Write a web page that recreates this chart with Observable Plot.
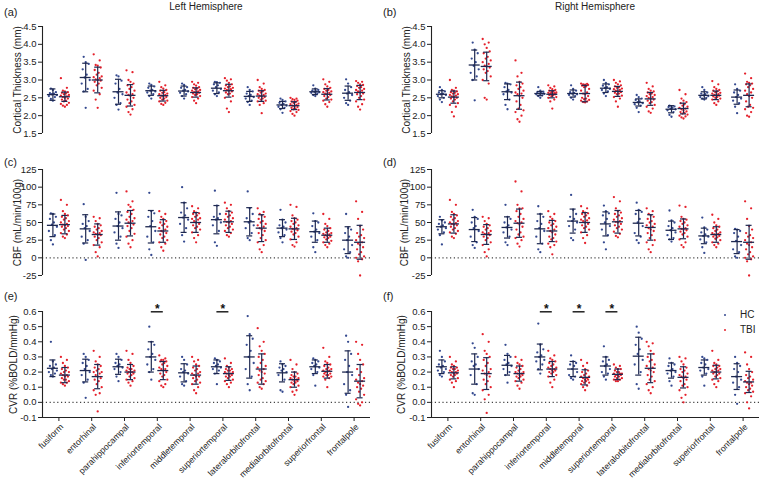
<!DOCTYPE html>
<html><head><meta charset="utf-8">
<script src="https://cdn.jsdelivr.net/npm/d3@7"></script>
<script src="https://cdn.jsdelivr.net/npm/@observablehq/plot@0.6"></script>
<style>
body{margin:0;background:#fff;font-family:"Liberation Sans",Arial,sans-serif;}
#root{position:relative;width:760px;height:478px;overflow:hidden;background:#fff;}
.p{position:absolute;}
.lab{position:absolute;font-size:11px;line-height:13px;color:#222;}
.ttl{position:absolute;font-size:10px;line-height:12px;color:#222;transform:translateX(-50%);white-space:nowrap;}
.leg{position:absolute;font-size:10px;line-height:12px;color:#222;}
.leg i{position:absolute;width:2px;height:2px;border-radius:1px;}
</style></head><body><div id="root"></div>
<script>
const regions = ["fusiform","entorhinal","parahippocampal","inferiortemporal","middletemporal","superiortemporal","lateralorbitofrontal","medialorbitofrontal","superiorfrontal","frontalpole"];
const groups = ["HC","TBI"];
const ctTicks = [1.5,2.0,2.5,3.0,3.5,4.0,4.5];
const cbfTicks = [-25,0,25,50,75,100,125];
const cvrTicks = [-0.1,0.0,0.1,0.2,0.3,0.4,0.5,0.6];

// ---- (a) cortical thickness, left ----
const ctL_HC = [
 [2.42,2.47,2.52,2.55,2.58,2.6,2.62,2.63,2.66,2.72,2.76],
 [2.22,2.68,2.75,2.9,3.0,3.07,3.15,3.3,3.45,3.5,3.65],
 [2.17,2.3,2.35,2.5,2.6,2.65,2.75,2.9,2.98,3.1,3.13],
 [2.48,2.55,2.6,2.65,2.68,2.7,2.72,2.78,2.82,2.86,2.9],
 [2.48,2.55,2.6,2.64,2.68,2.7,2.72,2.78,2.8,2.86,2.9],
 [2.55,2.6,2.65,2.7,2.75,2.8,2.85,2.88,2.92,2.94,2.95],
 [2.3,2.38,2.42,2.48,2.52,2.55,2.58,2.62,2.68,2.72,2.8],
 [2.08,2.18,2.22,2.25,2.28,2.3,2.33,2.36,2.4,2.44,2.48],
 [2.55,2.58,2.62,2.64,2.66,2.67,2.68,2.7,2.72,2.76,2.85],
 [2.3,2.35,2.42,2.5,2.58,2.62,2.66,2.72,2.8,2.9,3.02]];
const ctL_TBI = [
 [2.25,2.28,2.3,2.33,2.36,2.4,2.42,2.45,2.48,2.5,2.52,2.54,2.56,2.58,2.6,2.62,2.64,2.66,2.68,2.7,2.78,3.05],
 [2.22,2.45,2.6,2.7,2.78,2.85,2.9,2.95,2.98,3.0,3.02,3.05,3.08,3.1,3.15,3.2,3.28,3.35,3.4,3.42,3.55,3.72],
 [2.03,2.1,2.18,2.25,2.3,2.35,2.4,2.45,2.5,2.55,2.58,2.6,2.65,2.7,2.75,2.8,2.85,2.9,2.95,3.0,3.22,3.27],
 [2.3,2.33,2.36,2.4,2.42,2.45,2.48,2.5,2.52,2.54,2.56,2.58,2.6,2.62,2.64,2.66,2.7,2.72,2.76,2.8,2.85,2.95],
 [2.35,2.42,2.48,2.52,2.55,2.58,2.6,2.62,2.64,2.65,2.66,2.68,2.7,2.72,2.74,2.76,2.78,2.8,2.84,2.88,2.92,2.95],
 [2.1,2.2,2.4,2.5,2.55,2.6,2.62,2.65,2.68,2.7,2.72,2.74,2.76,2.78,2.8,2.82,2.85,2.88,2.92,2.98,3.02,3.05],
 [2.07,2.3,2.35,2.4,2.42,2.45,2.48,2.5,2.52,2.54,2.56,2.58,2.6,2.62,2.65,2.68,2.7,2.72,2.75,2.8,2.9,3.0],
 [2.0,2.05,2.1,2.13,2.16,2.18,2.2,2.22,2.24,2.26,2.28,2.3,2.32,2.34,2.36,2.38,2.4,2.42,2.44,2.46,2.48,2.5],
 [2.25,2.32,2.38,2.42,2.45,2.48,2.52,2.55,2.58,2.6,2.62,2.64,2.66,2.68,2.7,2.72,2.75,2.78,2.82,2.88,2.95,3.02],
 [2.17,2.25,2.32,2.4,2.45,2.5,2.55,2.6,2.62,2.65,2.68,2.7,2.72,2.75,2.78,2.8,2.83,2.86,2.88,2.92,2.95,2.97]];
const ctL_HC_mean = [2.59,3.07,2.67,2.70,2.69,2.77,2.54,2.30,2.67,2.63];
const ctL_HC_sd = [0.16,0.40,0.35,0.13,0.14,0.15,0.14,0.10,0.08,0.20];
const ctL_TBI_mean = [2.53,3.00,2.57,2.56,2.65,2.70,2.55,2.28,2.60,2.65];
const ctL_TBI_sd = [0.13,0.36,0.30,0.15,0.13,0.18,0.15,0.11,0.16,0.20];

// ---- (b) cortical thickness, right ----
const ctR_HC = [
 [2.38,2.45,2.5,2.55,2.58,2.6,2.62,2.65,2.68,2.72,2.8],
 [2.43,3.0,3.1,3.2,3.3,3.4,3.5,3.6,3.75,3.85,4.05],
 [2.18,2.3,2.45,2.6,2.65,2.68,2.72,2.8,2.88,2.9,2.92],
 [2.5,2.55,2.57,2.6,2.61,2.62,2.63,2.65,2.67,2.7,2.8],
 [2.45,2.5,2.55,2.58,2.6,2.62,2.64,2.66,2.7,2.75,2.85],
 [2.55,2.62,2.68,2.72,2.75,2.78,2.8,2.84,2.88,2.92,3.0],
 [2.1,2.22,2.28,2.32,2.35,2.38,2.4,2.44,2.48,2.52,2.58],
 [1.97,2.02,2.1,2.15,2.18,2.2,2.22,2.24,2.26,2.27,2.28],
 [2.45,2.48,2.5,2.52,2.55,2.57,2.6,2.62,2.65,2.72,2.8],
 [2.07,2.25,2.35,2.42,2.48,2.52,2.58,2.65,2.7,2.75,2.88]];
const ctR_TBI = [
 [1.98,2.1,2.25,2.3,2.35,2.4,2.45,2.48,2.5,2.52,2.54,2.56,2.58,2.6,2.62,2.64,2.66,2.68,2.7,2.72,2.78,3.0],
 [2.45,2.5,2.9,3.0,3.1,3.2,3.25,3.3,3.35,3.38,3.4,3.45,3.5,3.55,3.6,3.65,3.75,3.8,3.9,4.0,4.05,4.15],
 [1.83,1.9,2.0,2.1,2.15,2.2,2.3,2.4,2.5,2.55,2.6,2.62,2.65,2.7,2.75,2.8,2.85,2.9,2.95,3.1,3.2,3.55],
 [2.2,2.4,2.45,2.5,2.52,2.55,2.57,2.58,2.6,2.61,2.62,2.63,2.64,2.65,2.66,2.68,2.7,2.72,2.74,2.78,2.82,2.85],
 [2.37,2.38,2.4,2.42,2.44,2.46,2.48,2.5,2.55,2.6,2.62,2.65,2.7,2.75,2.8,2.82,2.84,2.86,2.87,2.88,2.89,2.9],
 [2.25,2.4,2.48,2.52,2.56,2.6,2.62,2.64,2.66,2.68,2.7,2.72,2.74,2.76,2.78,2.8,2.82,2.85,2.88,2.92,2.96,3.0],
 [2.08,2.12,2.2,2.25,2.3,2.35,2.38,2.42,2.45,2.48,2.5,2.52,2.55,2.58,2.6,2.62,2.65,2.68,2.7,2.75,2.82,2.92],
 [1.92,1.95,1.98,2.0,2.03,2.06,2.08,2.1,2.12,2.15,2.18,2.2,2.22,2.25,2.28,2.32,2.35,2.38,2.42,2.48,2.6,2.72],
 [2.3,2.35,2.4,2.45,2.48,2.5,2.52,2.54,2.56,2.57,2.58,2.6,2.62,2.64,2.66,2.68,2.7,2.72,2.75,2.8,2.88,2.97],
 [1.97,2.0,2.1,2.18,2.22,2.25,2.3,2.4,2.5,2.55,2.6,2.65,2.7,2.75,2.8,2.85,2.88,2.9,2.92,2.95,3.05,3.18]];
const ctR_HC_mean = [2.60,3.42,2.67,2.62,2.62,2.77,2.37,2.18,2.57,2.52];
const ctR_HC_sd = [0.10,0.42,0.22,0.06,0.10,0.12,0.10,0.10,0.10,0.20];
const ctR_TBI_mean = [2.52,3.38,2.56,2.60,2.62,2.68,2.47,2.20,2.57,2.57];
const ctR_TBI_sd = [0.17,0.40,0.38,0.10,0.23,0.14,0.18,0.15,0.12,0.32];

// ---- (c) CBF, left ----
const cbfL_HC = [
 [19,25,32,38,44,47,50,55,58,62,63],
 [-3,20,25,30,38,42,45,48,52,58,76],
 [14,20,30,36,42,45,50,55,60,62,92],
 [4,12,22,30,38,45,52,58,63,66,92],
 [23,32,42,48,54,57,60,64,70,78,100],
 [17,22,38,46,50,54,56,58,62,74,95],
 [25,28,35,42,46,50,52,56,62,70,94],
 [22,28,32,36,40,42,44,46,50,54,68],
 [8,15,25,30,35,37,40,45,50,52,63],
 [0,2,8,12,18,25,30,35,40,42,62]];
const cbfL_TBI = [
 [28,30,33,35,38,40,42,44,45,46,47,48,50,52,54,56,58,60,62,66,75,82],
 [2,8,15,18,22,25,28,30,32,33,34,35,36,38,40,42,44,46,48,52,56,58],
 [15,20,25,30,34,38,42,45,47,49,50,52,54,56,58,62,65,68,72,75,80,94],
 [10,15,20,22,25,28,30,33,35,37,38,40,42,44,46,48,50,52,55,58,62,66],
 [22,28,32,36,40,42,44,46,48,50,52,54,55,56,58,60,62,63,64,66,70,73],
 [30,32,35,38,40,42,44,46,48,50,51,52,54,56,58,60,62,64,66,70,75,78],
 [8,12,18,22,25,28,32,35,38,40,42,44,46,48,50,52,55,58,60,62,65,70],
 [16,18,22,26,30,33,35,37,39,40,41,42,44,46,48,50,52,54,56,60,72,75],
 [15,18,20,22,24,26,28,29,30,31,32,33,34,35,36,38,40,42,45,48,55,62],
 [-25,-5,-2,0,2,5,8,12,15,18,20,22,25,28,30,32,35,40,45,55,65,80]];
const cbfL_HC_mean = [46,41,45,44,57,54,51,42,37,25];
const cbfL_HC_sd = [16,20,20,23,21,20,20,12,15,19];
const cbfL_TBI_mean = [47,33,49,38,50,51,42,41,32,22];
const cbfL_TBI_sd = [13,15,18,16,14,15,19,15,10,24];

// ---- (d) CBF, right ----
const cbfR_HC = [
 [19,32,36,40,42,44,46,48,50,53,58],
 [14,18,22,30,38,42,45,50,55,58,68],
 [18,22,30,36,40,43,46,50,55,58,75],
 [8,12,20,30,38,42,48,52,58,62,73],
 [25,28,40,45,50,52,55,58,62,68,89],
 [12,22,32,40,45,50,55,60,63,66,74],
 [21,25,30,35,45,50,55,62,65,68,78],
 [23,26,28,32,36,39,42,45,50,53,67],
 [7,15,22,26,30,31,33,36,40,43,57],
 [0,2,8,12,18,24,30,35,38,40,41]];
const cbfR_TBI = [
 [28,30,34,36,38,40,42,44,46,47,48,49,50,52,54,56,58,60,62,65,75,82],
 [2,8,12,18,22,25,28,30,32,33,34,35,36,38,40,42,44,46,48,52,56,58],
 [16,20,25,28,30,33,36,40,44,47,49,50,52,55,58,62,66,70,70,75,94,108],
 [5,15,18,20,23,26,28,30,33,36,38,40,42,44,46,48,50,52,55,58,62,66],
 [21,28,32,36,40,42,44,46,48,50,52,53,54,56,58,60,62,63,64,66,70,73],
 [29,31,34,37,40,42,44,46,48,50,51,52,54,56,58,60,62,64,66,70,80,86],
 [8,12,18,22,25,28,32,35,38,40,42,44,46,48,50,52,55,58,60,62,66,70],
 [15,18,22,26,30,33,35,37,39,40,41,42,44,46,48,50,52,54,55,58,72,74],
 [15,18,20,22,25,27,29,30,31,32,33,34,35,36,38,40,42,44,46,50,55,61],
 [-25,-5,-2,0,2,5,8,12,15,18,20,22,25,28,30,32,35,40,45,55,70,80]];
const cbfR_HC_mean = [44,40,43,41,52,48,49,39,31,23];
const cbfR_HC_sd = [10,17,15,21,17,17,18,13,11,17];
const cbfR_TBI_mean = [48,33,49,38,50,51,43,41,33,22];
const cbfR_TBI_sd = [13,14,20,15,14,16,18,14,11,24];

// ---- (e) CVR, left ----
const cvrL_HC = [
 [0.17,0.18,0.19,0.2,0.21,0.22,0.23,0.24,0.25,0.27,0.40],
 [0.03,0.13,0.15,0.18,0.2,0.22,0.24,0.26,0.28,0.3,0.32],
 [0.14,0.17,0.2,0.22,0.23,0.24,0.25,0.26,0.28,0.3,0.32],
 [0.15,0.2,0.22,0.25,0.28,0.3,0.32,0.35,0.38,0.4,0.5],
 [0.11,0.12,0.14,0.17,0.19,0.2,0.21,0.22,0.25,0.28,0.3],
 [0.12,0.19,0.21,0.22,0.23,0.24,0.25,0.26,0.27,0.28,0.29],
 [0.08,0.12,0.17,0.22,0.26,0.3,0.34,0.38,0.42,0.45,0.57],
 [0.07,0.08,0.15,0.18,0.2,0.21,0.22,0.23,0.24,0.25,0.27],
 [0.11,0.18,0.2,0.22,0.23,0.24,0.25,0.26,0.27,0.28,0.29],
 [-0.03,0.05,0.08,0.12,0.18,0.2,0.24,0.28,0.32,0.4,0.44]];
const cvrL_TBI = [
 [0.11,0.12,0.13,0.13,0.14,0.15,0.15,0.16,0.17,0.17,0.18,0.18,0.19,0.2,0.2,0.21,0.22,0.23,0.24,0.26,0.28,0.3],
 [-0.06,0.05,0.06,0.08,0.1,0.12,0.14,0.15,0.16,0.17,0.18,0.19,0.2,0.2,0.21,0.22,0.23,0.24,0.25,0.27,0.3,0.34],
 [0.11,0.13,0.14,0.15,0.16,0.17,0.18,0.19,0.19,0.2,0.2,0.2,0.21,0.21,0.22,0.22,0.23,0.24,0.26,0.28,0.32,0.34],
 [0.1,0.11,0.12,0.14,0.15,0.17,0.18,0.19,0.2,0.21,0.22,0.22,0.23,0.24,0.25,0.26,0.27,0.27,0.28,0.28,0.29,0.31],
 [0.06,0.08,0.1,0.12,0.13,0.14,0.15,0.16,0.17,0.17,0.18,0.19,0.19,0.2,0.21,0.22,0.23,0.24,0.25,0.27,0.28,0.3],
 [0.1,0.12,0.13,0.14,0.15,0.16,0.17,0.17,0.18,0.18,0.19,0.19,0.2,0.2,0.21,0.21,0.22,0.22,0.23,0.24,0.26,0.29],
 [0.09,0.1,0.12,0.13,0.14,0.15,0.16,0.18,0.19,0.2,0.21,0.22,0.23,0.24,0.26,0.28,0.3,0.32,0.34,0.37,0.4,0.49],
 [0.05,0.07,0.08,0.1,0.11,0.12,0.13,0.13,0.14,0.14,0.15,0.15,0.16,0.16,0.17,0.17,0.18,0.19,0.2,0.22,0.25,0.28],
 [0.1,0.15,0.16,0.17,0.17,0.18,0.18,0.19,0.19,0.2,0.2,0.21,0.21,0.22,0.22,0.23,0.24,0.25,0.26,0.27,0.3,0.36],
 [-0.02,-0.01,0.0,0.02,0.05,0.07,0.09,0.1,0.11,0.12,0.13,0.14,0.15,0.16,0.18,0.2,0.22,0.25,0.28,0.32,0.38,0.4]];
const cvrL_HC_mean = [0.225,0.21,0.235,0.30,0.195,0.235,0.30,0.195,0.235,0.20];
const cvrL_HC_sd = [0.055,0.075,0.05,0.10,0.06,0.045,0.14,0.06,0.045,0.14];
const cvrL_TBI_mean = [0.18,0.17,0.20,0.21,0.18,0.19,0.22,0.15,0.205,0.14];
const cvrL_TBI_sd = [0.05,0.08,0.05,0.06,0.06,0.045,0.10,0.05,0.045,0.11];
const cvrL_sig = [3,5];

// ---- (f) CVR, right ----
const cvrR_HC = [
 [0.17,0.18,0.2,0.21,0.22,0.23,0.24,0.25,0.27,0.3,0.34],
 [0.05,0.06,0.12,0.18,0.22,0.24,0.25,0.27,0.3,0.36,0.39],
 [0.13,0.18,0.2,0.22,0.24,0.25,0.26,0.28,0.3,0.32,0.38],
 [0.19,0.22,0.25,0.27,0.28,0.3,0.31,0.33,0.35,0.38,0.52],
 [0.15,0.16,0.17,0.18,0.2,0.22,0.24,0.25,0.26,0.27,0.31],
 [0.15,0.17,0.19,0.2,0.22,0.24,0.25,0.27,0.28,0.3,0.37],
 [0.09,0.12,0.2,0.25,0.28,0.32,0.35,0.38,0.42,0.46,0.5],
 [0.11,0.14,0.17,0.19,0.2,0.21,0.22,0.24,0.25,0.26,0.29],
 [0.11,0.17,0.19,0.21,0.22,0.23,0.25,0.26,0.28,0.29,0.3],
 [-0.01,0.05,0.1,0.13,0.15,0.17,0.2,0.22,0.24,0.26,0.3]];
const cvrR_TBI = [
 [0.1,0.13,0.14,0.15,0.16,0.17,0.18,0.18,0.19,0.19,0.2,0.2,0.21,0.21,0.22,0.22,0.23,0.23,0.24,0.25,0.27,0.3],
 [-0.07,0.02,0.05,0.08,0.1,0.12,0.14,0.15,0.17,0.18,0.19,0.2,0.21,0.22,0.24,0.26,0.28,0.3,0.32,0.34,0.4,0.45],
 [0.09,0.11,0.13,0.14,0.15,0.16,0.17,0.17,0.18,0.18,0.19,0.19,0.2,0.2,0.21,0.22,0.23,0.24,0.25,0.26,0.28,0.3],
 [0.1,0.13,0.15,0.17,0.18,0.19,0.2,0.2,0.21,0.21,0.22,0.22,0.23,0.23,0.24,0.25,0.26,0.27,0.28,0.29,0.31,0.34],
 [0.08,0.1,0.11,0.12,0.13,0.13,0.14,0.14,0.15,0.15,0.16,0.16,0.17,0.17,0.18,0.19,0.2,0.21,0.22,0.24,0.26,0.28],
 [0.14,0.14,0.15,0.15,0.16,0.16,0.17,0.17,0.18,0.18,0.18,0.19,0.19,0.19,0.2,0.2,0.21,0.22,0.22,0.23,0.24,0.25],
 [0.06,0.08,0.1,0.12,0.14,0.15,0.17,0.18,0.2,0.21,0.22,0.23,0.24,0.25,0.27,0.28,0.3,0.32,0.34,0.37,0.39,0.4],
 [0.0,0.03,0.05,0.08,0.1,0.11,0.12,0.14,0.15,0.16,0.17,0.17,0.18,0.19,0.2,0.21,0.22,0.23,0.25,0.27,0.29,0.3],
 [0.1,0.12,0.14,0.15,0.16,0.17,0.18,0.19,0.19,0.2,0.2,0.21,0.21,0.22,0.22,0.23,0.24,0.24,0.25,0.26,0.28,0.34],
 [-0.04,0.0,0.04,0.06,0.07,0.08,0.09,0.1,0.11,0.12,0.13,0.13,0.14,0.15,0.16,0.17,0.18,0.2,0.22,0.25,0.3,0.33]];
const cvrR_HC_mean = [0.235,0.22,0.245,0.30,0.22,0.24,0.305,0.21,0.23,0.17];
const cvrR_HC_sd = [0.045,0.10,0.065,0.085,0.05,0.06,0.125,0.05,0.05,0.085];
const cvrR_TBI_mean = [0.195,0.19,0.19,0.22,0.165,0.185,0.225,0.165,0.2,0.135];
const cvrR_TBI_sd = [0.04,0.105,0.05,0.05,0.05,0.035,0.095,0.07,0.045,0.07];
const cvrR_sig = [3,4,5];

// ---------- layout / style ----------
const HC_COLOR = "#34498f", TBI_COLOR = "#e5202b", BAR_COLOR = "#1e2850", AXIS = "#222";
const PXU = 32.8;            // px per x unit
const OFF = 6 / PXU;         // group offset from region centre
const JIT = [0,-2,2,-4,4,-1,1,-3,3]; // px, horizontal scatter pattern
const ROWS = [
  {top:0, height:150, mt:26, mb:17},
  {top:150, height:130, mt:19, mb:5},
  {top:280, height:198, mt:31, mb:61}];
const SIDES = [{left:0, ml:42, mr:10}, {left:380, ml:51, mr:1}];
const root = document.getElementById("root");

function panel(o){
  const row = ROWS[o.row], side = SIDES[o.side];
  const dots = [];
  [[o.hc,-1,"HC"],[o.tbi,1,"TBI"]].forEach(([arr,s,g]) => arr.forEach((vals,i) =>
    vals.forEach((v,k) => dots.push({x: i + 0.5 + s*OFF + JIT[k % JIT.length]/PXU, y: v, g}))));
  const bars = [];
  [[o.hcM,o.hcS,-1],[o.tbiM,o.tbiS,1]].forEach(([M,S,s]) => M.forEach((m,i) =>
    bars.push({x: i + 0.5 + s*OFF, m, lo: m - S[i], hi: m + S[i]})));
  const marks = [];
  if (o.zero) marks.push(Plot.ruleY([0], {stroke: "#444", strokeWidth: 1.1, strokeDasharray: "1.2,2.6"}));
  marks.push(
    Plot.dot(dots, {x:"x", y:"y", r:1.15, fill: d => d.g === "HC" ? HC_COLOR : TBI_COLOR, stroke: "none"}),
    Plot.ruleX(bars, {x:"x", y1:"lo", y2:"hi", stroke: BAR_COLOR, strokeWidth: 1.2}),
    Plot.ruleY(bars, {y:"m", x1: d => d.x - 5.5/PXU, x2: d => d.x + 5.5/PXU, stroke: BAR_COLOR, strokeWidth: 1.3}),
    Plot.ruleY(bars, {y:"lo", x1: d => d.x - 3/PXU, x2: d => d.x + 3/PXU, stroke: BAR_COLOR, strokeWidth: 1.2}),
    Plot.ruleY(bars, {y:"hi", x1: d => d.x - 3/PXU, x2: d => d.x + 3/PXU, stroke: BAR_COLOR, strokeWidth: 1.2}),
    Plot.ruleX([0], {stroke: AXIS, strokeWidth: 1.1}),
    Plot.axisY({ticks: o.ticks, tickFormat: o.fmt, tickSize: 4, tickPadding: 2, label: null, fontSize: 9.5}),
    Plot.text([o.label], {frameAnchor: "left", textAnchor: "middle", lineAnchor: "middle", rotate: -90, dx: -(side.ml - o.labelX), fontSize: 10, fill: AXIS})
  );
  if (o.sig) {
    marks.push(
      Plot.ruleY(o.sig, {y: () => 0.598, x1: i => i + 0.5 - OFF, x2: i => i + 0.5 + OFF, stroke: "#111", strokeWidth: 1.4}),
      Plot.text(o.sig, {x: i => i + 0.5, y: () => 0.598, text: () => "*", dy: -2.5, fontSize: 12, fontWeight: "bold", fill: "#111"}));
  }
  if (o.xaxis) {
    marks.push(
      Plot.ruleY([o.domain[0]], {stroke: AXIS, strokeWidth: 1.1}),
      Plot.axisX({ticks: regions.map((r,i) => i + 0.5), tickFormat: () => "", tickSize: 4, label: null}),
      Plot.text(regions, {x: (d,i) => i + 0.5, text: d => d, frameAnchor: "bottom", rotate: -45, textAnchor: "end", lineAnchor: "middle", dx: 3, dy: 8, fontSize: 8.7, fill: AXIS}));
  }
  const svg = Plot.plot({
    width: 380, height: row.height,
    marginLeft: side.ml, marginRight: side.mr, marginTop: row.mt, marginBottom: row.mb,
    x: {domain: [0, 10], axis: null},
    y: {domain: o.domain, axis: null},
    style: {fontFamily: '"Liberation Sans", Arial, sans-serif', fontSize: "9.5px", color: AXIS, background: "transparent", overflow: "visible"},
    marks
  });
  const wrap = document.createElement("div");
  wrap.className = "p";
  wrap.style.left = side.left + "px";
  wrap.style.top = row.top + "px";
  wrap.appendChild(svg);
  root.appendChild(wrap);
}

const f1 = d => d.toFixed(1), f0 = d => String(d);
panel({row:0, side:0, hc:ctL_HC, tbi:ctL_TBI, hcM:ctL_HC_mean, hcS:ctL_HC_sd, tbiM:ctL_TBI_mean, tbiS:ctL_TBI_sd, domain:[1.5,4.5], ticks:ctTicks, fmt:f1, label:"Cortical Thickness (mm)", labelX:17});
panel({row:0, side:1, hc:ctR_HC, tbi:ctR_TBI, hcM:ctR_HC_mean, hcS:ctR_HC_sd, tbiM:ctR_TBI_mean, tbiS:ctR_TBI_sd, domain:[1.5,4.5], ticks:ctTicks, fmt:f1, label:"Cortical Thickness (mm)", labelX:26});
panel({row:1, side:0, hc:cbfL_HC, tbi:cbfL_TBI, hcM:cbfL_HC_mean, hcS:cbfL_HC_sd, tbiM:cbfL_TBI_mean, tbiS:cbfL_TBI_sd, domain:[-25,125], ticks:cbfTicks, fmt:f0, label:"CBF (mL/min/100g)", labelX:17, zero:true});
panel({row:1, side:1, hc:cbfR_HC, tbi:cbfR_TBI, hcM:cbfR_HC_mean, hcS:cbfR_HC_sd, tbiM:cbfR_TBI_mean, tbiS:cbfR_TBI_sd, domain:[-25,125], ticks:cbfTicks, fmt:f0, label:"CBF (mL/min/100g)", labelX:24, zero:true});
panel({row:2, side:0, hc:cvrL_HC, tbi:cvrL_TBI, hcM:cvrL_HC_mean, hcS:cvrL_HC_sd, tbiM:cvrL_TBI_mean, tbiS:cvrL_TBI_sd, domain:[-0.1,0.6], ticks:cvrTicks, fmt:f1, label:"CVR (%BOLD/mmHg)", labelX:13, zero:true, sig:cvrL_sig, xaxis:true});
panel({row:2, side:1, hc:cvrR_HC, tbi:cvrR_TBI, hcM:cvrR_HC_mean, hcS:cvrR_HC_sd, tbiM:cvrR_TBI_mean, tbiS:cvrR_TBI_sd, domain:[-0.1,0.6], ticks:cvrTicks, fmt:f1, label:"CVR (%BOLD/mmHg)", labelX:21, zero:true, sig:cvrR_sig, xaxis:true});

// titles, panel letters, legend
const html = (cls, txt, css) => { const d = document.createElement("div"); d.className = cls; d.textContent = txt; Object.assign(d.style, css); root.appendChild(d); return d; };
html("ttl", "Left Hemisphere", {left: "206px", top: "1px"});
html("ttl", "Right Hemisphere", {left: "595px", top: "1px"});
[["(a)",4,6],["(b)",383,6],["(c)",4,156],["(d)",383,156],["(e)",4,290],["(f)",383,290]].forEach(([t,x,y]) => html("lab", t, {left: x + "px", top: y + "px"}));
[[groups[0], HC_COLOR, 309],[groups[1], TBI_COLOR, 324]].forEach(([t,c,y]) => {
  const d = html("leg", t, {left: "740px", top: y + "px"});
  const dot = document.createElement("i");
  dot.style.background = c; dot.style.left = "-16px"; dot.style.top = "5px";
  d.appendChild(dot);
});
</script></body></html>
